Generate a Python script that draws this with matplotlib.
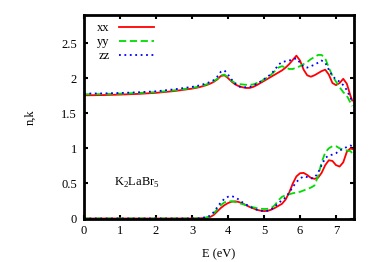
import matplotlib.pyplot as plt

plt.rcParams['font.family'] = ['Liberation Serif', 'DejaVu Serif']
plt.rcParams['mathtext.fontset'] = 'custom'
plt.rcParams['mathtext.rm'] = 'Liberation Serif'

E = [0, 0.5, 1.0, 1.5, 2.0, 2.5, 3.0, 3.2, 3.4, 3.5, 3.6, 3.7, 3.8, 3.9, 4.0,
     4.1, 4.2, 4.3, 4.4, 4.5, 4.6, 4.7, 4.8, 4.9, 5.0, 5.1, 5.2, 5.3, 5.4, 5.5,
     5.6, 5.7, 5.8, 5.9, 6.0, 6.1, 6.2, 6.3, 6.4, 6.5, 6.6, 6.7, 6.8, 6.9, 7.0,
     7.1, 7.2, 7.3, 7.4, 7.45]

n_xx = [1.755, 1.758, 1.765, 1.775, 1.79, 1.815, 1.85, 1.87, 1.9, 1.92, 1.945,
        1.98, 2.03, 2.04, 2.0, 1.95, 1.91, 1.885, 1.87, 1.86, 1.86, 1.875, 1.9,
        1.93, 1.96, 1.99, 2.02, 2.05, 2.08, 2.11, 2.15, 2.2, 2.26, 2.32, 2.25,
        2.12, 2.04, 2.02, 2.04, 2.07, 2.1, 2.12, 2.05, 1.93, 1.9, 1.93, 1.99,
        1.92, 1.75, 1.68]
n_yy = [1.77, 1.772, 1.778, 1.788, 1.80, 1.825, 1.86, 1.88, 1.91, 1.93, 1.955,
        1.99, 2.04, 2.05, 2.01, 1.96, 1.93, 1.915, 1.91, 1.905, 1.905, 1.91,
        1.93, 1.95, 1.98, 2.01, 2.05, 2.1, 2.15, 2.17, 2.15, 2.13, 2.13, 2.15,
        2.17, 2.2, 2.23, 2.27, 2.3, 2.33, 2.33, 2.28, 2.15, 2.03, 1.95, 1.87,
        1.8, 1.75, 1.65, 1.6]
n_zz = [1.78, 1.782, 1.788, 1.798, 1.812, 1.84, 1.875, 1.895, 1.925, 1.945,
        1.97, 2.02, 2.09, 2.11, 2.05, 1.98, 1.92, 1.88, 1.87, 1.87, 1.875, 1.89,
        1.92, 1.95, 1.985, 2.02, 2.06, 2.12, 2.19, 2.23, 2.24, 2.25, 2.27, 2.28,
        2.22, 2.16, 2.15, 2.17, 2.19, 2.22, 2.25, 2.22, 2.12, 2.03, 1.98, 1.95,
        1.9, 1.83, 1.72, 1.67]

k_xx = [0, 0, 0, 0, 0, 0, 0, 0.002, 0.01, 0.02, 0.05, 0.1, 0.15, 0.19, 0.22,
        0.24, 0.245, 0.235, 0.215, 0.19, 0.165, 0.145, 0.125, 0.112, 0.105,
        0.11, 0.125, 0.15, 0.18, 0.21, 0.27, 0.37, 0.5, 0.6, 0.645, 0.65, 0.62,
        0.58, 0.565, 0.58, 0.65, 0.76, 0.83, 0.82, 0.76, 0.74, 0.8, 0.95, 1.0,
        0.99]
k_yy = [0, 0, 0, 0, 0, 0, 0, 0.002, 0.015, 0.03, 0.07, 0.13, 0.19, 0.23, 0.245,
        0.245, 0.235, 0.22, 0.205, 0.19, 0.175, 0.16, 0.148, 0.14, 0.135, 0.138,
        0.15, 0.19, 0.26, 0.31, 0.33, 0.345, 0.36, 0.37, 0.38, 0.4, 0.42, 0.44,
        0.47, 0.6, 0.8, 0.94, 1.0, 1.03, 1.03, 1.0, 0.98, 0.97, 0.96, 0.93]
k_zz = [0, 0, 0, 0, 0, 0, 0, 0.003, 0.02, 0.04, 0.09, 0.16, 0.23, 0.28, 0.31,
        0.32, 0.30, 0.27, 0.23, 0.2, 0.17, 0.145, 0.125, 0.112, 0.105, 0.11,
        0.13, 0.17, 0.22, 0.26, 0.3, 0.37, 0.45, 0.52, 0.57, 0.6, 0.59, 0.57,
        0.58, 0.65, 0.76, 0.86, 0.9, 0.91, 0.93, 0.97, 0.99, 1.02, 1.04, 1.03]

fig = plt.figure(figsize=(3.74, 2.62), dpi=100)
ax = fig.add_axes([0.2246, 0.166, 0.722, 0.777])

lw = 1.3
ax.plot(E, n_xx, color='#ff0000', lw=lw, label='xx')
ax.plot(E, n_yy, color='#00dd00', lw=lw, ls=(0, (4, 2)), label='yy')
ax.plot(E, n_zz, color='#0000ff', lw=lw, ls=(0, (1, 2)), label='zz')
ax.plot(E, k_xx, color='#ff0000', lw=lw)
ax.plot(E, k_yy, color='#00dd00', lw=lw, ls=(0, (4, 2)))
ax.plot(E, k_zz, color='#0000ff', lw=lw, ls=(0, (1, 2)))

ax.set_xlim(0, 7.5)
ax.set_ylim(0, 2.9)
ax.set_xticks([0, 1, 2, 3, 4, 5, 6, 7])
ax.set_yticks([0, 0.5, 1, 1.5, 2, 2.5])
ax.set_yticklabels(['0', '0.5', '1', '1.5', '2', '2.5'])
ax.tick_params(direction='in', top=True, right=True, length=3, width=1.5,
               labelsize=9, pad=5)
for s in ax.spines.values():
    s.set_linewidth(2)

ax.set_xlabel('E (eV)', fontsize=9, labelpad=8)
ax.set_ylabel('n,k', fontsize=9, labelpad=18)
ax.text(1.46, 0.5, 'K$_2$LaBr$_5$', fontsize=9, ha='center', va='center')

ax.legend(loc='upper left', frameon=False, markerfirst=False, fontsize=9,
          handlelength=2.8, handletextpad=0.8, labelspacing=0.15,
          borderaxespad=0.2, bbox_to_anchor=(0.02, 1.0))

fig.savefig('out.png', dpi=100)
